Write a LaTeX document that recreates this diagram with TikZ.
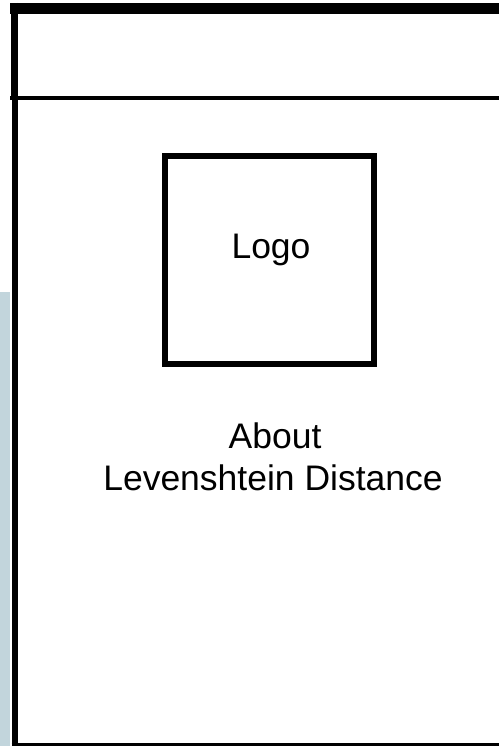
\documentclass[tikz,border=0pt]{standalone}
\usepackage{fontspec}
\setmainfont{Liberation Sans}
\definecolor{stripcol}{HTML}{C2D5DC}
\tikzset{
  frameline/.style={draw=black, line cap=butt},
  logobox/.style={draw=black, line width=6pt, minimum width=209pt, minimum height=208pt, inner sep=0pt},
  label34/.style={inner sep=0pt, font=\fontsize{35.5}{42}\selectfont}
}
\begin{document}
\begin{tikzpicture}[x=1pt,y=-1pt]
\useasboundingbox (0,0) rectangle (499,746);
\fill[white] (0,0) rectangle (499,746);
% side strip
\fill[stripcol] (0,292) rectangle (10,746);
% window frame
\draw[frameline, line width=11pt] (10,8.5) -- (499,8.5);
\draw[frameline, line width=7.5pt] (14.25,3) -- (14.25,100);
\draw[frameline, line width=6.5pt] (14.75,100) -- (14.75,746);
\draw[frameline, line width=4.5pt] (10,98) -- (499,98);
\draw[frameline, line width=3pt] (11.5,744.5) -- (499,744.5);
% logo
\node[logobox] (logo) at (269.5,260) {};
\node[label34, anchor=base] (logotext) at (271,258) {Logo};
\node[label34, anchor=base] (about) at (275,448) {About};
\node[label34, anchor=base] (lev) at (273,490) {Levenshtein Distance};
\end{tikzpicture}
\end{document}
